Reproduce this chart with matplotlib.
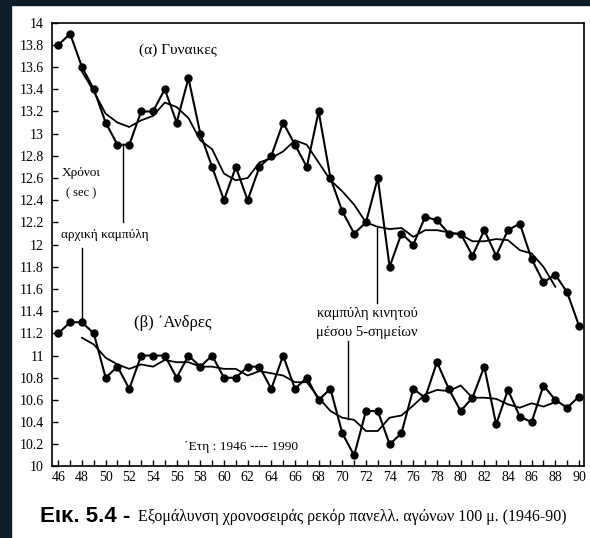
import matplotlib
matplotlib.use('Agg')
import matplotlib.pyplot as plt
from matplotlib.ticker import MultipleLocator, FuncFormatter

plt.rcParams['font.family'] = ['Liberation Serif', 'DejaVu Serif']

# DATA
years = list(range(46, 91))
gynaikes = [13.8, 13.9, 13.6, 13.4, 13.1, 12.9, 12.9, 13.2, 13.2, 13.4,
            13.1, 13.5, 13.0, 12.7, 12.4, 12.7, 12.4, 12.7, 12.8, 13.1,
            12.9, 12.7, 13.2, 12.6, 12.3, 12.1, 12.2, 12.6, 11.8, 12.1,
            12.0, 12.25, 12.22, 12.1, 12.1, 11.9, 12.13, 11.9, 12.13, 12.19,
            11.87, 11.66, 11.73, 11.57, 11.27]
andres = [11.2, 11.3, 11.3, 11.2, 10.8, 10.9, 10.7, 11.0, 11.0, 11.0,
          10.8, 11.0, 10.9, 11.0, 10.8, 10.8, 10.9, 10.9, 10.7, 11.0,
          10.7, 10.8, 10.6, 10.7, 10.3, 10.1, 10.5, 10.5, 10.2, 10.3,
          10.7, 10.62, 10.94, 10.7, 10.5, 10.62, 10.9, 10.38, 10.69, 10.45,
          10.4, 10.73, 10.6, 10.53, 10.63]

# καμπύλη κινητού μέσου (1948-1988)
years_mm = list(range(48, 89))
gynaikes_mm = [13.56, 13.38, 13.18, 13.10, 13.06, 13.12, 13.16, 13.28, 13.24, 13.14,
               12.94, 12.86, 12.64, 12.58, 12.60, 12.74, 12.78, 12.84, 12.94, 12.90,
               12.74, 12.58, 12.48, 12.36, 12.20, 12.16, 12.14, 12.15, 12.07, 12.13,
               12.13, 12.11, 12.09, 12.03, 12.03, 12.05, 12.04, 11.95, 11.92, 11.80,
               11.62]
andres_mm = [11.16, 11.10, 10.98, 10.92, 10.88, 10.92, 10.90, 10.96, 10.94, 10.94,
             10.90, 10.90, 10.88, 10.88, 10.82, 10.86, 10.84, 10.82, 10.76, 10.76,
             10.62, 10.50, 10.44, 10.42, 10.32, 10.32, 10.44, 10.46, 10.55, 10.65,
             10.69, 10.68, 10.73, 10.62, 10.62, 10.61, 10.56, 10.53, 10.57, 10.54,
             10.58]

# GRAFICA
fig = plt.figure(figsize=(5.9, 5.38), dpi=100)
fig.patch.set_facecolor('white')
# σκούρο περίγραμμα της σάρωσης
fig.patches.append(plt.Rectangle((0, 0), 11/590, 1, transform=fig.transFigure,
                                 color='#0c1e2c', zorder=0))
fig.patches.append(plt.Rectangle((0, 1 - 5/538), 1, 5/538, transform=fig.transFigure,
                                 color='#0c1e2c', zorder=0))

ax = fig.add_axes([0.0886, 0.1329, 0.9017, 0.8249])
ax.plot(years, gynaikes, color='black', lw=1.5, marker='o', ms=5)
ax.plot(years, andres, color='black', lw=1.5, marker='o', ms=5)
ax.plot(years_mm, gynaikes_mm, color='black', lw=1.3)
ax.plot(years_mm, andres_mm, color='black', lw=1.3)

ax.set_xlim(45.49, 90.45)
ax.set_ylim(10, 14)
ax.xaxis.set_major_locator(MultipleLocator(2))
ax.xaxis.set_minor_locator(MultipleLocator(1))
ax.yaxis.set_major_locator(MultipleLocator(0.2))
ax.yaxis.set_major_formatter(FuncFormatter(lambda v, p: '%g' % round(v, 1)))
ax.tick_params(axis='x', which='both', direction='in', length=4, width=1,
               labelsize=10, pad=3)
ax.tick_params(axis='y', direction='in', length=4, width=1, labelsize=10, pad=6)
for s in ax.spines.values():
    s.set_linewidth(1.2)

# κείμενα και γραμμές οδηγοί
ax.text(56.12, 13.754, '(α) Γυναικες', ha='center', va='center', fontsize=11)
ax.text(47.92, 12.645, 'Χρόνοι', ha='center', va='center', fontsize=9.5)
ax.text(47.92, 12.465, '( sec )', ha='center', va='center', fontsize=9)
ax.text(49.95, 12.086, 'αρχική καμπύλη', ha='center', va='center', fontsize=9.5)
ax.plot([51.5, 51.5], [12.9, 12.2], color='black', lw=1)
ax.plot([48, 48], [11.97, 11.3], color='black', lw=1)
ax.text(55.70, 11.29, '(β) ΄Ανδρες', ha='center', va='center', fontsize=12)
ax.text(72.09, 11.38, 'καμπύλη κινητού', ha='center', va='center', fontsize=10.5)
ax.text(72.09, 11.21, 'μέσου 5-σημείων', ha='center', va='center', fontsize=10.5)
ax.plot([72.9, 72.9], [12.15, 11.47], color='black', lw=1)
ax.plot([70.5, 70.5], [11.13, 10.43], color='black', lw=1)
ax.text(61.45, 10.174, '΄Ετη : 1946 ---- 1990', ha='center', va='center', fontsize=9.6)

# λεζάντα
cy = 1 - 517/538
fig.text(40/590, cy, 'Εικ. 5.4 -', ha='left', va='center', fontsize=16,
         fontweight='bold', family=['Liberation Sans', 'DejaVu Sans'])
fig.text(567/590, cy,
         'Εξομάλυνση χρονοσειράς ρεκόρ πανελλ. αγώνων 100 μ. (1946-90)',
         ha='right', va='center', fontsize=11.5)

fig.savefig('out.png', dpi=100)
